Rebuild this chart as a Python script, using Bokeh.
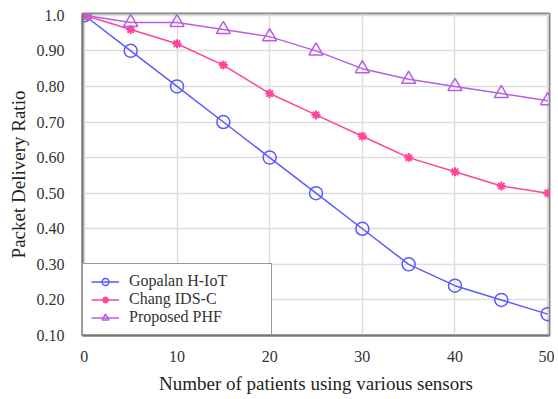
from bokeh.plotting import figure
from bokeh.models import Range1d, FixedTicker, Legend, LegendItem
from bokeh.embed import file_html
from bokeh.resources import INLINE

patients = [0, 5, 10, 15, 20, 25, 30, 35, 40, 45, 50]
gopalan = [1.0, 0.90, 0.80, 0.70, 0.60, 0.50, 0.40, 0.30, 0.24, 0.20, 0.16]
chang = [1.0, 0.96, 0.92, 0.86, 0.78, 0.72, 0.66, 0.60, 0.56, 0.52, 0.50]
phf = [1.0, 0.98, 0.98, 0.96, 0.94, 0.90, 0.85, 0.82, 0.80, 0.78, 0.76]
y_ticks = [0.1, 0.2, 0.3, 0.4, 0.5, 0.6, 0.7, 0.8, 0.9, 1.0]
y_labels = ["0.10", "0.20", "0.30", "0.40", "0.50", "0.60", "0.70", "0.80", "0.90", "1.0"]
x_ticks = [0, 10, 20, 30, 40, 50]

FONT = "Liberation Serif"

p = figure(width=554, height=396, output_backend="svg", toolbar_location=None,
           x_range=Range1d(-0.2, 50.2), y_range=Range1d(0.1, 1.005),
           min_border_left=82, min_border_right=5, min_border_top=13, min_border_bottom=60)

p.outline_line_color = "#888888"
p.outline_line_width = 2

p.xaxis.ticker = FixedTicker(ticks=x_ticks)
p.yaxis.ticker = FixedTicker(ticks=y_ticks)
p.yaxis.major_label_overrides = {t: l for t, l in zip(y_ticks, y_labels)}
for ax in (p.xaxis, p.yaxis):
    ax.axis_line_color = "#777777"
    ax.axis_line_width = 2
    ax.major_tick_line_color = None
    ax.minor_tick_line_color = None
    ax.major_label_text_font = FONT
    ax.major_label_text_font_size = "16px"
    ax.major_label_text_color = "#333333"
    ax.axis_label_text_font = FONT
    ax.axis_label_text_font_size = "19px"
    ax.axis_label_text_font_style = "normal"
    ax.axis_label_text_color = "#222222"
p.xaxis.axis_label = "Number of patients using various sensors"
p.yaxis.axis_label = "Packet Delivery Ratio"
p.xaxis.major_label_standoff = 9
p.yaxis.major_label_standoff = 12
p.xaxis.axis_label_standoff = 8
p.yaxis.axis_label_standoff = 5

p.grid.grid_line_color = "#dddddd"
p.grid.grid_line_width = 1.5

blue = "#5a5aff"
pink = "#ff4499"
purple = "#b85ee2"

l1 = p.line(patients, gopalan, line_color=blue, line_width=1.5)
m1 = p.scatter(patients, gopalan, marker="circle", size=13, fill_color=None, line_color=blue, line_width=1.5)
l2 = p.line(patients, chang, line_color=pink, line_width=1.5)
m2 = p.scatter(patients, chang, marker="asterisk", size=9, line_color=pink, line_width=2)
l3 = p.line(patients, phf, line_color=purple, line_width=1.5)
m3 = p.scatter(patients, phf, marker="triangle", size=14, fill_color=None, line_color=purple, line_width=1.5)

legend = Legend(items=[
    LegendItem(label="Gopalan H-IoT", renderers=[l1, m1]),
    LegendItem(label="Chang IDS-C", renderers=[l2, m2]),
    LegendItem(label="Proposed PHF", renderers=[l3, m3]),
], location="bottom_left")
legend.label_text_font = FONT
legend.label_text_font_size = "16px"
legend.label_text_color = "#333333"
legend.border_line_color = "#333333"
legend.border_line_width = 1.5
legend.margin = 0
legend.padding = 8
legend.spacing = 0
legend.glyph_width = 28
legend.glyph_height = 17
legend.label_height = 17
legend.label_width = 134
legend.label_standoff = 10
legend.background_fill_alpha = 1
p.add_layout(legend)

open("out.html", "w").write(file_html(p, INLINE))
